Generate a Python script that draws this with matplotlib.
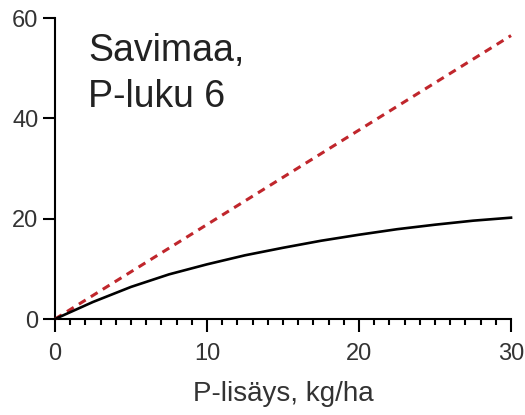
import matplotlib.pyplot as plt
import numpy as np

plt.rcParams['font.family'] = ['Liberation Sans', 'DejaVu Sans']

# Response curve (P-lisäys vs. response)
p_added = [0, 2.5, 5, 7.5, 10, 12.5, 15, 17.5, 20, 22.5, 25, 27.5, 30]
response = [0, 3.4, 6.4, 8.9, 10.9, 12.7, 14.2, 15.6, 16.8, 17.9, 18.8, 19.6, 20.2]

# Reference line (red dashed)
ref_x = [0, 30]
ref_y = [0, 56.5]

x_ticks = [0, 10, 20, 30]
y_ticks = [0, 20, 40, 60]

fig = plt.figure(figsize=(5.25, 4.15), dpi=100)
fig.patch.set_facecolor("#FFFFFF")
ax = fig.add_axes([0.1048, 0.2313, 0.8686, 0.7253])

ax.plot(ref_x, ref_y, color="#C0262C", linewidth=2.2, linestyle=(0, (2.6, 2.0)),
        clip_on=False, zorder=3)
ax.plot(p_added, response, color="black", linewidth=1.9, clip_on=False, zorder=4)

ax.set_xlim(0, 30)
ax.set_ylim(0, 60)
ax.set_xticks(x_ticks)
ax.set_yticks(y_ticks)
ax.set_xticks(np.arange(0, 31, 1), minor=True)

for side in ["top", "right"]:
    ax.spines[side].set_visible(False)
for side in ["left", "bottom"]:
    ax.spines[side].set_linewidth(1.5)

ax.tick_params(axis="both", which="major", direction="out", length=9, width=1.5,
               labelsize=17, labelcolor="#333333")
ax.tick_params(axis="y", which="major", pad=3)
ax.tick_params(axis="x", which="major", pad=8)
ax.tick_params(axis="x", which="minor", direction="out", length=4.5, width=1.5)

ax.set_xlabel("P-lisäys, kg/ha", fontsize=20, color="#333333", labelpad=12)

ax.text(2.2, 57.0, "Savimaa,\nP-luku 6", fontsize=27, color="#222222",
        ha="left", va="top", linespacing=1.35)

plt.savefig("out.png", dpi=100)
